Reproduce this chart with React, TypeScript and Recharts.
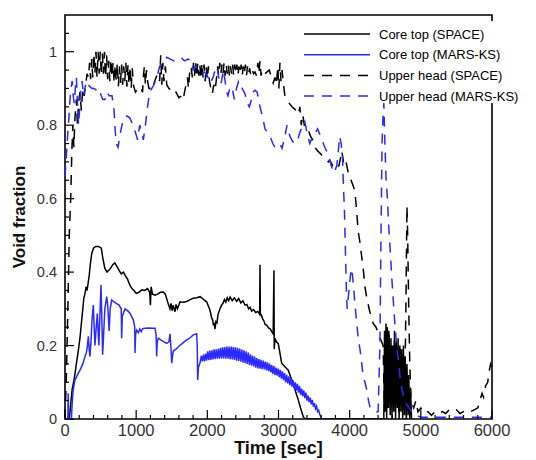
import React from 'react';
import { LineChart, Line, XAxis, YAxis, ReferenceArea } from 'recharts';

// [time (s), void fraction] pairs
const coreTopSpace: number[][] = [
  [0, 0], [60, 0], [75, 0.03], [100, 0.08], [130, 0.11], [160, 0.15], [190, 0.19], [210, 0.22], [230, 0.26],
  [250, 0.3], [265, 0.33], [280, 0.34], [295, 0.36], [310, 0.35], [325, 0.37], [340, 0.39], [355, 0.42],
  [375, 0.45], [400, 0.465], [430, 0.47], [470, 0.47], [510, 0.465], [530, 0.44], [560, 0.41], [590, 0.4],
  [615, 0.405], [640, 0.41], [670, 0.42], [700, 0.425], [730, 0.415], [760, 0.405], [790, 0.395], [820, 0.4],
  [850, 0.39], [880, 0.38], [910, 0.365], [940, 0.355], [970, 0.35], [1000, 0.342], [1040, 0.345],
  [1080, 0.352], [1120, 0.35], [1160, 0.355], [1190, 0.345], [1200, 0.31], [1210, 0.36], [1230, 0.34],
  [1265, 0.337], [1300, 0.34], [1340, 0.345], [1380, 0.346], [1410, 0.34], [1440, 0.32], [1475, 0.3],
  [1490, 0.315], [1505, 0.295], [1520, 0.31], [1546, 0.292], [1560, 0.312], [1580, 0.3], [1616, 0.319],
  [1660, 0.318], [1710, 0.32], [1760, 0.325], [1803, 0.329], [1850, 0.33], [1900, 0.333], [1950, 0.325],
  [1990, 0.319], [2030, 0.3], [2045, 0.29], [2060, 0.275], [2075, 0.27], [2085, 0.255], [2095, 0.262],
  [2108, 0.245], [2120, 0.265], [2135, 0.262], [2150, 0.285], [2178, 0.3], [2200, 0.31], [2220, 0.315],
  [2240, 0.325], [2260, 0.318], [2280, 0.33], [2300, 0.322], [2320, 0.332], [2350, 0.322], [2380, 0.33],
  [2412, 0.32], [2440, 0.328], [2470, 0.316], [2500, 0.322], [2529, 0.31], [2555, 0.312], [2580, 0.3],
  [2600, 0.304], [2623, 0.294], [2650, 0.298], [2680, 0.29], [2710, 0.293], [2735, 0.285], [2740, 0.42],
  [2745, 0.288], [2765, 0.28], [2780, 0.272], [2800, 0.265], [2810, 0.258], [2835, 0.255], [2860, 0.248],
  [2885, 0.245], [2904, 0.238], [2925, 0.232], [2936, 0.405], [2940, 0.19], [2950, 0.22], [2970, 0.21],
  [2997, 0.205], [3020, 0.18], [3044, 0.152], [3090, 0.142], [3137, 0.133], [3170, 0.115], [3208, 0.097],
  [3240, 0.075], [3278, 0.052], [3310, 0.03], [3348, 0.006], [3380, 0], [4480, 0], [4490, 0.24],
  [4500, 0.02], [4510, 0.26], [4520, 0], [4530, 0.25], [4545, 0.03], [4555, 0.23], [4570, 0.01],
  [4580, 0.22], [4595, 0], [4605, 0.2], [4620, 0.02], [4630, 0.24], [4645, 0], [4655, 0.21], [4670, 0.03],
  [4680, 0.22], [4695, 0], [4705, 0.2], [4720, 0.02], [4730, 0.19], [4745, 0], [4755, 0.2], [4770, 0.01],
  [4780, 0.17], [4795, 0], [4805, 0.15], [4820, 0.01], [4830, 0.12], [4845, 0], [4855, 0.08], [4870, 0],
];

const coreTopMars: number[][] = [
  [0, 0], [40, 0], [45, 0.07], [52, 0], [90, 0], [100, 0.04], [115, 0.08], [140, 0.106], [175, 0.12],
  [211, 0.133], [250, 0.15], [281, 0.17], [300, 0.18], [315, 0.2], [328, 0.225], [340, 0.19], [350, 0.17],
  [365, 0.21], [380, 0.27], [398, 0.31], [410, 0.25], [421, 0.2], [435, 0.24], [454, 0.287], [465, 0.24],
  [476, 0.2], [490, 0.28], [506, 0.365], [518, 0.27], [529, 0.175], [545, 0.24], [560, 0.3], [586, 0.333],
  [600, 0.31], [620, 0.24], [635, 0.3], [656, 0.324], [680, 0.32], [720, 0.315], [760, 0.31], [790, 0.3],
  [796, 0.22], [805, 0.28], [843, 0.3], [880, 0.295], [913, 0.288], [960, 0.27], [980, 0.25], [984, 0.18],
  [992, 0.23], [1007, 0.242], [1030, 0.235], [1050, 0.245], [1070, 0.238], [1090, 0.246], [1124, 0.247],
  [1180, 0.248], [1230, 0.247], [1265, 0.247], [1280, 0.23], [1288, 0.17], [1296, 0.21], [1312, 0.22],
  [1350, 0.215], [1390, 0.21], [1429, 0.206], [1460, 0.21], [1475, 0.232], [1490, 0.19], [1500, 0.152],
  [1510, 0.17], [1522, 0.185], [1560, 0.19], [1600, 0.198], [1650, 0.206], [1700, 0.214], [1750, 0.22],
  [1803, 0.229], [1850, 0.232], [1858, 0.2], [1864, 0.106], [1875, 0.14], [1900, 0.155], [1915, 0.172],
  [1930, 0.157], [1945, 0.175], [1960, 0.157], [1975, 0.178], [1990, 0.159], [2005, 0.184], [2020, 0.16],
  [2035, 0.186], [2050, 0.161], [2065, 0.187], [2080, 0.162], [2095, 0.19], [2110, 0.163], [2125, 0.19],
  [2140, 0.164], [2155, 0.192], [2170, 0.164], [2185, 0.194], [2200, 0.165], [2215, 0.195], [2230, 0.165],
  [2245, 0.196], [2260, 0.164], [2275, 0.197], [2290, 0.164], [2305, 0.197], [2320, 0.163], [2335, 0.197],
  [2350, 0.162], [2365, 0.196], [2380, 0.161], [2395, 0.195], [2410, 0.159], [2425, 0.194], [2440, 0.158],
  [2455, 0.192], [2470, 0.156], [2485, 0.189], [2500, 0.153], [2515, 0.187], [2530, 0.152], [2545, 0.184],
  [2560, 0.15], [2575, 0.181], [2590, 0.147], [2605, 0.176], [2620, 0.145], [2635, 0.173], [2650, 0.143],
  [2665, 0.17], [2680, 0.14], [2695, 0.166], [2710, 0.138], [2725, 0.163], [2740, 0.137], [2755, 0.161],
  [2770, 0.136], [2785, 0.159], [2800, 0.135], [2815, 0.156], [2830, 0.132], [2845, 0.154], [2860, 0.13],
  [2875, 0.151], [2890, 0.127], [2905, 0.147], [2920, 0.123], [2935, 0.144], [2950, 0.12], [2965, 0.14],
  [2980, 0.118], [2995, 0.137], [3010, 0.114], [3025, 0.134], [3040, 0.11], [3055, 0.13], [3070, 0.106],
  [3085, 0.125], [3100, 0.1], [3115, 0.12], [3130, 0.097], [3145, 0.116], [3160, 0.092], [3175, 0.112],
  [3190, 0.088], [3205, 0.105], [3220, 0.083], [3235, 0.1], [3250, 0.078], [3265, 0.096], [3280, 0.072],
  [3295, 0.09], [3310, 0.066], [3325, 0.083], [3340, 0.062], [3355, 0.078], [3370, 0.057], [3385, 0.072],
  [3400, 0.05], [3415, 0.064], [3430, 0.046], [3445, 0.058], [3460, 0.04], [3475, 0.052], [3490, 0.034],
  [3505, 0.043], [3520, 0.028], [3535, 0.035], [3550, 0.02], [3565, 0.024], [3580, 0.012], [3606, 0],
];

const upperHeadSpace: number[][] = [
  [0, 0], [20, 0.12], [40, 0.3], [60, 0.5], [80, 0.6], [95, 0.72], [110, 0.8], [125, 0.74], [140, 0.82],
  [160, 0.87], [175, 0.8], [190, 0.86], [210, 0.89], [230, 0.84], [250, 0.9], [270, 0.88], [290, 0.91],
  [310, 0.94], [330, 0.93], [345, 0.97], [360, 0.925], [375, 0.98], [390, 0.93], [405, 0.995], [420, 0.94],
  [435, 1.0], [450, 0.93], [465, 1.0], [480, 0.94], [495, 1.0], [510, 0.935], [525, 0.995], [540, 0.94],
  [555, 1.0], [570, 0.93], [585, 0.99], [600, 0.925], [615, 0.975], [630, 0.92], [645, 0.98], [660, 0.93],
  [675, 0.97], [690, 0.915], [705, 0.965], [720, 0.92], [735, 0.97], [750, 0.905], [765, 0.96], [780, 0.915],
  [795, 0.965], [810, 0.91], [825, 0.96], [840, 0.92], [855, 0.97], [870, 0.905], [885, 0.965], [900, 0.91],
  [915, 0.96], [930, 0.9], [945, 0.955], [960, 0.91], [990, 0.89], [1010, 0.895], [1040, 0.89], [1070, 0.9],
  [1090, 0.89], [1100, 0.93], [1115, 0.96], [1130, 0.91], [1145, 0.95], [1160, 0.92], [1180, 0.9],
  [1200, 0.9], [1220, 0.895], [1240, 0.905], [1260, 0.92], [1280, 0.93], [1300, 0.94], [1330, 0.92],
  [1345, 0.99], [1360, 0.91], [1375, 0.97], [1390, 0.92], [1410, 0.96], [1430, 0.91], [1460, 0.9],
  [1500, 0.895], [1530, 0.885], [1560, 0.89], [1600, 0.875], [1640, 0.88], [1660, 0.87], [1690, 0.9],
  [1720, 0.93], [1735, 0.9], [1750, 0.94], [1770, 0.96], [1790, 0.93], [1805, 0.97], [1820, 0.935],
  [1835, 0.975], [1850, 0.93], [1865, 0.97], [1880, 0.935], [1895, 0.965], [1910, 0.925], [1925, 0.97],
  [1940, 0.93], [1955, 0.965], [1970, 0.92], [1985, 0.96], [2000, 0.925], [2015, 0.96], [2030, 0.92],
  [2050, 0.9], [2070, 0.885], [2090, 0.91], [2110, 0.895], [2130, 0.93], [2145, 0.96], [2160, 0.935],
  [2175, 0.97], [2190, 0.94], [2205, 0.965], [2220, 0.94], [2235, 0.97], [2250, 0.935], [2265, 0.965],
  [2280, 0.94], [2295, 0.965], [2310, 0.935], [2325, 0.96], [2340, 0.94], [2355, 0.965], [2370, 0.935],
  [2385, 0.965], [2400, 0.94], [2415, 0.965], [2430, 0.935], [2445, 0.96], [2460, 0.94], [2475, 0.965],
  [2490, 0.935], [2505, 0.96], [2520, 0.94], [2535, 0.965], [2550, 0.935], [2565, 0.96], [2580, 0.94],
  [2595, 0.955], [2610, 0.935], [2630, 0.95], [2650, 0.94], [2670, 0.945], [2690, 0.935], [2710, 0.97],
  [2725, 0.94], [2740, 0.975], [2755, 0.935], [2770, 0.95], [2790, 0.94], [2810, 0.94], [2840, 0.945],
  [2870, 0.95], [2900, 0.93], [2925, 0.915], [2950, 0.93], [2970, 0.91], [2990, 0.96], [3005, 0.9],
  [3020, 0.97], [3035, 0.92], [3050, 0.95], [3070, 0.91], [3090, 0.88], [3120, 0.87], [3150, 0.86],
  [3190, 0.85], [3220, 0.845], [3250, 0.84], [3280, 0.83], [3300, 0.85], [3320, 0.8], [3340, 0.83],
  [3370, 0.79], [3400, 0.785], [3420, 0.786], [3450, 0.77], [3480, 0.76], [3510, 0.74], [3550, 0.73],
  [3600, 0.72], [3650, 0.71], [3700, 0.7], [3720, 0.705], [3760, 0.69], [3810, 0.68], [3850, 0.69],
  [3890, 0.73], [3920, 0.69], [3950, 0.7], [3980, 0.67], [4000, 0.66], [4040, 0.64], [4075, 0.62],
  [4100, 0.56], [4120, 0.51], [4145, 0.48], [4170, 0.44], [4190, 0.41], [4215, 0.36], [4240, 0.33],
  [4285, 0.29], [4310, 0.28], [4330, 0.26], [4370, 0.25], [4400, 0.235], [4425, 0.22], [4450, 0.21],
  [4470, 0.2], [4490, 0.02], [4510, 0.22], [4530, 0.03], [4550, 0.24], [4570, 0.05], [4590, 0.2],
  [4610, 0.03], [4630, 0.22], [4650, 0.05], [4670, 0.18], [4690, 0.02], [4710, 0.2], [4730, 0.04],
  [4750, 0.15], [4770, 0.03], [4790, 0.3], [4805, 0.58], [4815, 0.5], [4830, 0.3], [4845, 0.15],
  [4860, 0.06], [4880, 0.04], [4900, 0.03], [4930, 0.05], [4960, 0.02], [5000, 0.03], [5050, 0.015],
  [5100, 0.02], [5150, 0.01], [5200, 0.02], [5250, 0.015], [5300, 0.02], [5350, 0.015], [5400, 0.025],
  [5450, 0.02], [5500, 0.025], [5550, 0.015], [5600, 0.02], [5650, 0.015], [5700, 0.02], [5750, 0.025],
  [5800, 0.03], [5830, 0.05], [5860, 0.07], [5880, 0.06], [5910, 0.09], [5940, 0.1], [5960, 0.13],
  [5980, 0.15], [6000, 0.14],
];

const upperHeadMars: number[][] = [
  [0, 0.66], [20, 0.72], [40, 0.78], [55, 0.82], [70, 0.87], [85, 0.9], [100, 0.92], [115, 0.88],
  [130, 0.86], [145, 0.9], [160, 0.93], [175, 0.86], [190, 0.8], [205, 0.84], [220, 0.9], [240, 0.92],
  [260, 0.88], [280, 0.9], [300, 0.92], [325, 0.91], [350, 0.905], [380, 0.9], [410, 0.9], [440, 0.895],
  [470, 0.88], [500, 0.885], [530, 0.87], [560, 0.87], [590, 0.89], [620, 0.88], [660, 0.88], [690, 0.84],
  [700, 0.8], [720, 0.75], [745, 0.74], [770, 0.77], [800, 0.8], [830, 0.82], [870, 0.825], [910, 0.82],
  [955, 0.8], [990, 0.78], [1020, 0.76], [1050, 0.8], [1080, 0.78], [1100, 0.76], [1130, 0.8], [1160, 0.85],
  [1190, 0.89], [1220, 0.9], [1250, 0.91], [1290, 0.93], [1330, 0.96], [1380, 0.97], [1430, 0.985],
  [1480, 0.98], [1530, 0.975], [1580, 0.98], [1630, 0.985], [1680, 0.975], [1730, 0.98], [1760, 0.977],
  [1800, 0.95], [1840, 0.96], [1880, 0.95], [1920, 0.94], [1960, 0.945], [2010, 0.93], [2040, 0.914],
  [2080, 0.93], [2110, 0.95], [2135, 0.96], [2160, 0.93], [2190, 0.91], [2225, 0.95], [2250, 0.92],
  [2270, 0.89], [2290, 0.88], [2320, 0.905], [2350, 0.9], [2380, 0.87], [2410, 0.9], [2440, 0.92],
  [2460, 0.92], [2490, 0.9], [2530, 0.885], [2560, 0.86], [2590, 0.85], [2620, 0.87], [2640, 0.89],
  [2670, 0.895], [2700, 0.89], [2740, 0.85], [2780, 0.82], [2810, 0.79], [2850, 0.78], [2880, 0.77],
  [2920, 0.75], [2950, 0.74], [2990, 0.745], [3020, 0.75], [3050, 0.737], [3090, 0.77], [3120, 0.8],
  [3160, 0.77], [3200, 0.755], [3240, 0.75], [3270, 0.76], [3300, 0.78], [3340, 0.8], [3370, 0.81],
  [3400, 0.78], [3440, 0.75], [3480, 0.77], [3520, 0.78], [3550, 0.79], [3580, 0.775], [3610, 0.76],
  [3650, 0.74], [3700, 0.72], [3740, 0.69], [3780, 0.67], [3820, 0.69], [3860, 0.77], [3880, 0.75],
  [3900, 0.71], [3915, 0.62], [3925, 0.58], [3935, 0.5], [3945, 0.42], [3955, 0.34], [3965, 0.3],
  [3990, 0.35], [4010, 0.39], [4030, 0.41], [4055, 0.36], [4075, 0.31], [4100, 0.26], [4120, 0.22],
  [4145, 0.19], [4170, 0.15], [4190, 0.115], [4215, 0.1], [4240, 0.08], [4265, 0.05], [4285, 0.033],
  [4310, 0.025], [4355, 0.02], [4400, 0.02], [4425, 0.2], [4440, 0.5], [4455, 0.75], [4470, 0.83],
  [4480, 0.86], [4495, 0.75], [4510, 0.66], [4530, 0.6], [4550, 0.52], [4570, 0.46], [4590, 0.39],
  [4610, 0.33], [4635, 0.26], [4665, 0.19], [4690, 0.15], [4710, 0.11], [4735, 0.08], [4770, 0.05],
  [4800, 0.04], [4850, 0.025], [4890, 0.016], [4940, 0.01], [5000, 0.005], [5500, 0.005], [6000, 0.005],
];

const seriesNames = ['Core top (SPACE)', 'Core top (MARS-KS)', 'Upper head (SPACE)', 'Upper head (MARS-KS)'];
const xTicks = [0, 200, 400, 600, 800, 1000, 1200, 1400, 1600, 1800, 2000, 2200, 2400, 2600, 2800, 3000,
  3200, 3400, 3600, 3800, 4000, 4200, 4400, 4600, 4800, 5000, 5200, 5400, 5600, 5800, 6000];
const yTicks = [0, 0.05, 0.1, 0.15, 0.2, 0.25, 0.3, 0.35, 0.4, 0.45, 0.5, 0.55, 0.6, 0.65, 0.7, 0.75, 0.8,
  0.85, 0.9, 0.95, 1, 1.05];

const BLUE = '#2a2aff';
const FONT = '"Liberation Sans", Arial, sans-serif';

const toPoints = (pairs: number[][]) => pairs.map(([t, v]) => ({ t, v }));

const styles = [
  { color: '#000', dash: undefined },
  { color: BLUE, dash: undefined },
  { color: '#000', dash: '10 8' },
  { color: BLUE, dash: '10 8' },
];
const seriesData = [coreTopSpace, coreTopMars, upperHeadSpace, upperHeadMars];

const XTick = (props: any) => {
  const { x, y, payload } = props;
  const major = payload.value % 1000 === 0;
  return (
    <g>
      <line x1={x} x2={x} y1={y} y2={y - (major ? 9 : 4)} stroke="#000" strokeWidth={1.2} />
      {major && (
        <text x={x} y={y + 17} textAnchor="middle" fontSize={16.5} fill="#333" fontFamily={FONT}>
          {payload.value}
        </text>
      )}
    </g>
  );
};

const YTick = (props: any) => {
  const { x, y, payload } = props;
  const v = payload.value;
  const major = Math.abs(v * 5 - Math.round(v * 5)) < 1e-6;
  return (
    <g>
      <line x1={x} x2={x + (major ? 9 : 4)} y1={y} y2={y} stroke="#000" strokeWidth={1.2} />
      {major && (
        <text x={x - 8} y={y + 5} textAnchor="end" fontSize={14.5} fill="#333" fontFamily={FONT}>
          {String(Math.round(v * 10) / 10)}
        </text>
      )}
    </g>
  );
};

const App: React.FC = () => {
  return (
    <div style={{ position: 'relative', width: 528, height: 452 }}>
      <LineChart width={528} height={452} margin={{ top: 7, right: 44, left: 7, bottom: 0 }}>
        <XAxis
          dataKey="t"
          type="number"
          domain={[0, 6000]}
          ticks={xTicks}
          interval={0}
          axisLine={false}
          tickLine={false}
          tickSize={0}
          tickMargin={0}
          height={41}
          tick={<XTick />}
          label={{ value: 'Time [sec]', position: 'insideBottom', offset: 6, fill: '#111', fontSize: 18, fontWeight: 'bold', fontFamily: FONT }}
        />
        <YAxis
          dataKey="v"
          type="number"
          domain={[0, 1.1]}
          ticks={yTicks}
          interval={0}
          allowDataOverflow
          axisLine={false}
          tickLine={false}
          tickSize={0}
          tickMargin={0}
          width={50}
          tick={<YTick />}
          label={{ value: 'Void fraction', angle: -90, position: 'insideLeft', offset: 4, fill: '#111', fontSize: 17, fontWeight: 'bold', fontFamily: FONT, style: { textAnchor: 'middle' } }}
        />
        {seriesData.map((d, i) => (
          <Line
            key={seriesNames[i]}
            data={toPoints(d)}
            dataKey="v"
            name={seriesNames[i]}
            type="linear"
            stroke={styles[i].color}
            strokeDasharray={styles[i].dash}
            strokeWidth={1.5}
            dot={false}
            activeDot={false}
            isAnimationActive={false}
          />
        ))}
        <ReferenceArea x1={0} x2={6000} y1={0} y2={1.1} fill="none" stroke="#000" strokeWidth={1.6} ifOverflow="visible" />
      </LineChart>
      <svg width={540} height={110} style={{ position: 'absolute', left: 0, top: 0, overflow: 'visible', pointerEvents: 'none' }}>
        <rect x={292} y={13} width={250} height={82} fill="#fff" />
        {seriesNames.map((name, i) => {
          const cy = 26 + i * 20.7;
          return (
            <g key={name}>
              <line x1={296} x2={362} y1={cy} y2={cy} stroke={styles[i].color} strokeWidth={1.5} strokeDasharray={styles[i].dash} />
              <text x={371} y={cy + 4.5} fontSize={13} fill="#000" fontFamily={FONT}>{name}</text>
            </g>
          );
        })}
      </svg>
    </div>
  );
};

export default App;
